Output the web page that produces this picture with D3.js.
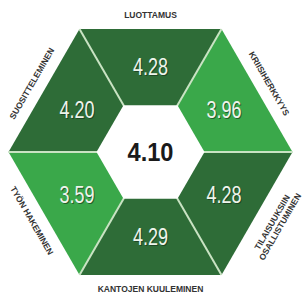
<!DOCTYPE html>
<html>
<head>
<meta charset="utf-8">
<script src="https://cdn.jsdelivr.net/npm/d3@7"></script>
<style>
  html, body { margin: 0; padding: 0; background: #fff; }
</style>
</head>
<body>
<div id="chart"></div>
<script>
// segments clockwise starting from the top one
const categories = ["LUOTTAMUS", "KRIISIHERKKYYS", "TILAISUUKSIIN\nOSALLISTUMINEN", "KANTOJEN KUULEMINEN", "TYÖN HAKEMINEN", "SUOSITTELEMINEN"];
const values = [4.28, 3.96, 4.28, 4.29, 3.59, 4.20];
const overall = 4.10;

const width = 303, height = 295;
const cx = 150.5, cy = 152;
const outerR = 142, innerR = 53;

const svg = d3.select("#chart")
  .append("svg")
  .attr("width", width)
  .attr("height", height);

const g = svg.append("g")
  .attr("transform", "translate(" + cx + "," + cy + ")");

// index -> angle (degrees) of segment middle
const angle = d3.scaleLinear().domain([0, 1]).range([-90, -30]);
const rad = a => a * Math.PI / 180;
const pt = (r, a) => [r * Math.cos(rad(a)), r * Math.sin(rad(a))];

const color = d3.scaleThreshold().domain([4]).range(["#3aa84a", "#2e6c37"]);

const data = categories.map((c, i) => ({ name: c, value: values[i], mid: angle(i) }));

// segments
g.selectAll("path.seg")
  .data(data)
  .join("path")
  .attr("class", "seg")
  .attr("fill", d => color(d.value))
  .attr("d", d => {
    const a0 = d.mid - 30, a1 = d.mid + 30;
    return "M" + [pt(outerR, a0), pt(outerR, a1), pt(innerR, a1), pt(innerR, a0)].join("L") + "Z";
  });

// spokes
g.selectAll("line.spoke")
  .data(data)
  .join("line")
  .attr("class", "spoke")
  .attr("x1", d => pt(innerR, d.mid - 30)[0])
  .attr("y1", d => pt(innerR, d.mid - 30)[1])
  .attr("x2", d => pt(outerR, d.mid - 30)[0])
  .attr("y2", d => pt(outerR, d.mid - 30)[1])
  .attr("stroke", "#c9e3c3")
  .attr("stroke-width", 2);

// inner hexagon
g.append("path")
  .attr("fill", "#fff")
  .attr("d", "M" + d3.range(6).map(i => pt(innerR + 1, angle(i) - 30)).join("L") + "Z");

// values
const valR = 85;
const fmt = d3.format(".2f");
const vals = g.selectAll("g.val")
  .data(data)
  .join("g")
  .attr("class", "val")
  .attr("transform", d => "translate(" + pt(valR, d.mid) + ")");

vals.append("text")
  .attr("x", 1).attr("y", 9)
  .attr("text-anchor", "middle")
  .attr("font-family", "Liberation Sans, Arial, sans-serif")
  .attr("font-size", 24)
  .attr("textLength", 35)
  .attr("lengthAdjust", "spacingAndGlyphs")
  .attr("fill", "#143018")
  .attr("opacity", 0.6)
  .text(d => fmt(d.value));

vals.append("text")
  .attr("y", 8)
  .attr("text-anchor", "middle")
  .attr("font-family", "Liberation Sans, Arial, sans-serif")
  .attr("font-size", 24)
  .attr("textLength", 35)
  .attr("lengthAdjust", "spacingAndGlyphs")
  .attr("fill", "#eef4ec")
  .text(d => fmt(d.value));

// centre value
g.append("text")
  .attr("y", 9)
  .attr("text-anchor", "middle")
  .attr("font-family", "Liberation Sans, Arial, sans-serif")
  .attr("font-weight", "bold")
  .attr("font-size", 25)
  .attr("textLength", 46)
  .attr("lengthAdjust", "spacingAndGlyphs")
  .attr("fill", "#1a1a1a")
  .text(fmt(overall));

// outer labels
const labR = 137;
const labels = g.selectAll("g.lab")
  .data(data)
  .join("g")
  .attr("class", "lab")
  .attr("transform", d => {
    const rot = (d.mid < 0 || d.mid > 180) ? d.mid + 90 : d.mid - 90;
    return "translate(" + pt(labR, d.mid) + ") rotate(" + rot + ")";
  });

labels.each(function(d) {
  const lines = d.name.split("\n");
  const t = d3.select(this).append("text")
    .attr("text-anchor", "middle")
    .attr("font-family", "Liberation Sans, Arial, sans-serif")
    .attr("font-weight", "bold")
    .attr("font-size", 8.5)
    .attr("fill", "#333");
  lines.forEach((l, j) => {
    t.append("tspan")
      .attr("x", 0)
      .attr("y", 3 + (j - (lines.length - 1) / 2) * 9 + (lines.length > 1 ? 8 : 0))
      .text(l);
  });
});
</script>
</body>
</html>
